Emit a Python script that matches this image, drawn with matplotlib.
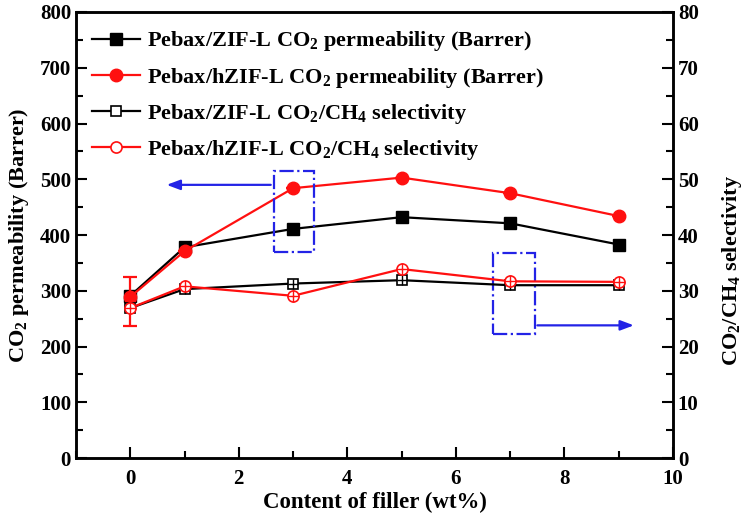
import matplotlib
matplotlib.use('Agg')
import matplotlib.pyplot as plt
from matplotlib.patches import Rectangle
from matplotlib.ticker import MultipleLocator

# filler content (wt%)
content = [0, 1, 3, 5, 7, 9]
# CO2 permeability (Barrer)
perm_zifl = [291, 378, 411, 432, 421, 383]
perm_hzifl = [289, 371, 484, 503, 475, 434]
perm_hzifl_err_low = [52, 0, 0, 0, 0, 0]
perm_hzifl_err_high = [36, 0, 0, 0, 0, 0]
# CO2/CH4 selectivity
sel_zifl = [26.9, 30.3, 31.3, 31.9, 31.0, 31.0]
sel_hzifl = [26.9, 30.8, 29.1, 33.9, 31.7, 31.6]

labels = ['Pebax/ZIF-L CO$_2$ permeability (Barrer)',
          'Pebax/hZIF-L CO$_2$ permeability (Barrer)',
          'Pebax/ZIF-L CO$_2$/CH$_4$ selectivity',
          'Pebax/hZIF-L CO$_2$/CH$_4$ selectivity']

plt.rcParams['font.family'] = ['Liberation Serif', 'DejaVu Serif']
plt.rcParams['font.weight'] = 'bold'
plt.rcParams['mathtext.fontset'] = 'custom'
plt.rcParams['mathtext.rm'] = 'Liberation Serif:bold'
plt.rcParams['mathtext.bf'] = 'Liberation Serif:bold'
plt.rcParams['mathtext.default'] = 'bf'

fig = plt.figure(figsize=(7.5, 5.17), dpi=100)
ax = fig.add_axes([0.1013, 0.114, 0.796, 0.8628])
ax2 = ax.twinx()

red = '#ff1010'
l1, = ax.plot(content, perm_zifl, '-s', color='black', lw=1.6, ms=8, zorder=3)
ax.errorbar(content, perm_hzifl, yerr=[perm_hzifl_err_low, perm_hzifl_err_high],
            fmt='none', ecolor=red, elinewidth=1.6, capsize=5, capthick=1.6, zorder=3)
l2, = ax.plot(content, perm_hzifl, '-o', color=red, lw=1.6, ms=9, zorder=3)

l3, = ax2.plot(content, sel_zifl, '-s', color='black', mfc='white', lw=1.6, ms=7, mew=1.2)
ax2.plot(content, sel_zifl, '+', color='black', ms=7, mew=1.0, ls='none')
l4, = ax2.plot(content, sel_hzifl, '-o', color=red, mfc='white', lw=1.6, ms=8, mew=1.2)
ax2.plot(content, sel_hzifl, '+', color=red, ms=8, mew=1.0, ls='none')

ax.set_xlim(-1, 10)
ax.set_ylim(0, 800)
ax2.set_ylim(0, 80)

ax.xaxis.set_major_locator(MultipleLocator(2))
ax.xaxis.set_minor_locator(MultipleLocator(1))
ax.yaxis.set_major_locator(MultipleLocator(100))
ax.yaxis.set_minor_locator(MultipleLocator(50))
ax2.yaxis.set_major_locator(MultipleLocator(10))
ax2.yaxis.set_minor_locator(MultipleLocator(5))

for a in (ax, ax2):
    a.tick_params(which='major', direction='in', length=8, width=1.5, labelsize=15)
    a.tick_params(which='minor', direction='in', length=5, width=1.5)
    for s in a.spines.values():
        s.set_linewidth(1.8)
ax.tick_params(axis='x', which='both', top=False)
ax.tick_params(axis='y', which='both', right=False)
ax.tick_params(axis='x', pad=8)

ax.set_xlabel('Content of filler (wt%)', fontsize=16.5, fontweight='bold', labelpad=2)
ax.set_ylabel('CO$_2$ permeability (Barrer)', fontsize=16, fontweight='bold')
ax.yaxis.set_label_coords(-0.076, 0.5)
ax2.set_ylabel('CO$_2$/CH$_4$ selectivity', fontsize=16, fontweight='bold', rotation=90)
ax2.yaxis.set_label_coords(1.078, 0.42)

# blue guide boxes and arrows
blue = '#2323e6'
ax.add_patch(Rectangle((2.64, 370), 0.74, 145, fill=False, ec=blue, lw=1.6, ls='-.', zorder=4))
ax.add_patch(Rectangle((6.68, 222), 0.77, 146, fill=False, ec=blue, lw=1.6, ls='-.', zorder=4))
ax.annotate('', xy=(0.62, 490), xytext=(2.64, 490),
            arrowprops=dict(arrowstyle='-|>,head_length=0.8,head_width=0.3', color=blue, lw=1.6))
ax.annotate('', xy=(9.33, 238), xytext=(7.45, 238),
            arrowprops=dict(arrowstyle='-|>,head_length=0.8,head_width=0.3', color=blue, lw=1.6))

fig.legend([l1, l2, l3, l4], labels, loc='upper left', bbox_to_anchor=(0.122, 0.943),
           frameon=False, fontsize=16, handlelength=2.2, handletextpad=0.3,
           labelspacing=0.55, borderpad=0, borderaxespad=0)

fig.savefig('out.png', dpi=100)
